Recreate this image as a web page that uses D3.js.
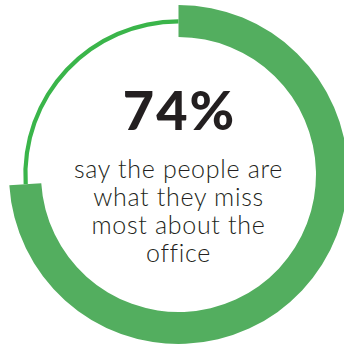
<!DOCTYPE html>
<html>
<head>
<meta charset="utf-8"/>
<script src="https://cdn.jsdelivr.net/npm/d3@7"></script>
<style>
  body { margin: 0; background: #fff; }
</style>
</head>
<body>
<div id="chart"></div>
<script>
// share of respondents
var labels = ["miss the people", "other"];
var values = [74, 26];
var headline = "74%";
var caption = ["say the people are", "what they miss", "most about the", "office"];

var width = 344, height = 345;
var cx = 178.5, cy = 174.5;

var svg = d3.select("#chart").append("svg")
    .attr("width", width)
    .attr("height", height);

var g = svg.append("g").attr("transform", "translate(" + cx + "," + cy + ")");

var pie = d3.pie().sort(null).value(function(d) { return d; });
var slices = pie(values);

// thick arc for the main share, thin line for the rest
var thick = d3.arc().innerRadius(137.5).outerRadius(169.5);
var thin = d3.arc().innerRadius(151).outerRadius(155.2);

g.selectAll("path")
    .data(slices)
    .enter().append("path")
    .attr("d", function(d, i) { return i === 0 ? thick(d) : thin(d); })
    .style("fill", function(d, i) { return i === 0 ? "#53ae5f" : "#3ab54a"; });

g.append("text")
    .attr("x", 1)
    .attr("y", -45)
    .attr("text-anchor", "middle")
    .style("font-family", "Lato, sans-serif")
    .style("font-weight", 900)
    .style("font-size", "54px")
    .style("letter-spacing", "2px")
    .style("fill", "#231f20")
    .text(headline);

g.selectAll("text.cap")
    .data(caption)
    .enter().append("text")
    .attr("class", "cap")
    .attr("x", 0)
    .attr("y", function(d, i) { return 3 + i * 28; })
    .attr("text-anchor", "middle")
    .style("font-family", "Lato, sans-serif")
    .style("font-weight", 300)
    .style("font-size", "25px")
    .style("letter-spacing", "0.7px")
    .style("fill", "#231f20")
    .text(function(d) { return d; });
</script>
</body>
</html>
